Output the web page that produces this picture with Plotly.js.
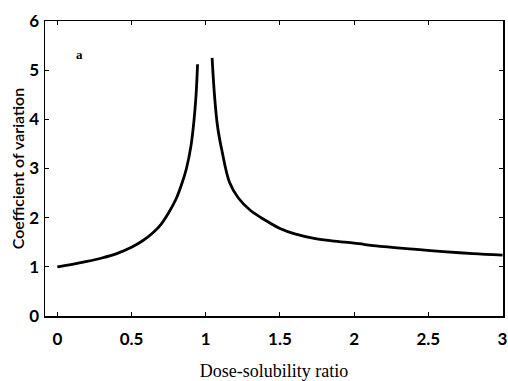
<!DOCTYPE html>
<html>
<head>
<meta charset="utf-8">
<script src="https://cdn.plot.ly/plotly-3.0.1.min.js"></script>
<style>html,body{margin:0;padding:0;background:#fff;}#chart{width:508px;height:381px;}</style>
</head>
<body>
<div id="chart"></div>
<script>
// Left branch (dose-solubility ratio below 1)
const leftX = [0, 0.1, 0.2, 0.3, 0.4, 0.5, 0.57, 0.65, 0.7, 0.75, 0.8, 0.84, 0.87, 0.9, 0.92, 0.935, 0.945];
const leftY = [1.0, 1.05, 1.11, 1.18, 1.27, 1.40, 1.52, 1.71, 1.87, 2.1, 2.38, 2.7, 3.0, 3.45, 3.95, 4.5, 5.12];
// Right branch (dose-solubility ratio above 1)
const rightX = [1.043, 1.06, 1.08, 1.11, 1.16, 1.22, 1.3, 1.4, 1.5, 1.6, 1.73, 1.85, 2.0, 2.2, 2.4, 2.6, 2.8, 3.0];
const rightY = [5.25, 4.45, 3.85, 3.35, 2.72, 2.4, 2.15, 1.95, 1.78, 1.67, 1.58, 1.53, 1.48, 1.41, 1.36, 1.31, 1.27, 1.24];
const xTicks = [0, 0.5, 1, 1.5, 2, 2.5, 3];
const xTickLabels = ['0', '0.5', '1', '1.5', '2', '2.5', '3'];
const yTicks = [0, 1, 2, 3, 4, 5, 6];
const panelLabel = 'a';

const serif = {family: 'Liberation Serif, Times New Roman, serif', color: '#000'};
const sans = {family: 'Lato, Open Sans, sans-serif', color: '#000'};
const line = {color: '#000', width: 2.8, shape: 'spline', smoothing: 1};

Plotly.newPlot('chart', [
  {x: leftX, y: leftY, mode: 'lines', line: line, showlegend: false, hoverinfo: 'skip'},
  {x: rightX, y: rightY, mode: 'lines', line: line, showlegend: false, hoverinfo: 'skip'}
], {
  width: 508, height: 381,
  margin: {l: 45, r: 5, t: 21, b: 65, pad: 0},
  paper_bgcolor: '#fff', plot_bgcolor: '#fff',
  font: Object.assign({size: 14}, serif),
  xaxis: {
    range: [-0.083, 3.003], tickvals: xTicks, ticktext: xTickLabels,
    showgrid: false, zeroline: false, showline: true, mirror: 'ticks',
    linecolor: '#000', linewidth: 1.5, ticks: 'inside', ticklen: 4, tickcolor: '#000',
    ticklabelstandoff: 7, ticklabeloverflow: 'allow',
    tickfont: Object.assign({size: 17, weight: 'bold'}, sans),
    title: {text: 'Dose-solubility ratio', font: Object.assign({size: 18}, serif), standoff: 32}
  },
  yaxis: {
    range: [0, 6], tickvals: yTicks,
    showgrid: false, zeroline: false, showline: true, mirror: 'ticks',
    linecolor: '#000', linewidth: 1.5, ticks: 'inside', ticklen: 4, tickcolor: '#000',
    ticklabelstandoff: 1,
    tickfont: Object.assign({size: 17, weight: 'bold'}, sans),
    title: {text: 'Coefficient of variation', font: Object.assign({size: 16, weight: 600}, sans), standoff: 0}
  },
  annotations: [{x: 0.15, y: 5.32, xref: 'x', yref: 'y', text: panelLabel, showarrow: false,
    font: Object.assign({size: 13, weight: 'bold'}, serif)}]
}, {staticPlot: true});
</script>
</body>
</html>
